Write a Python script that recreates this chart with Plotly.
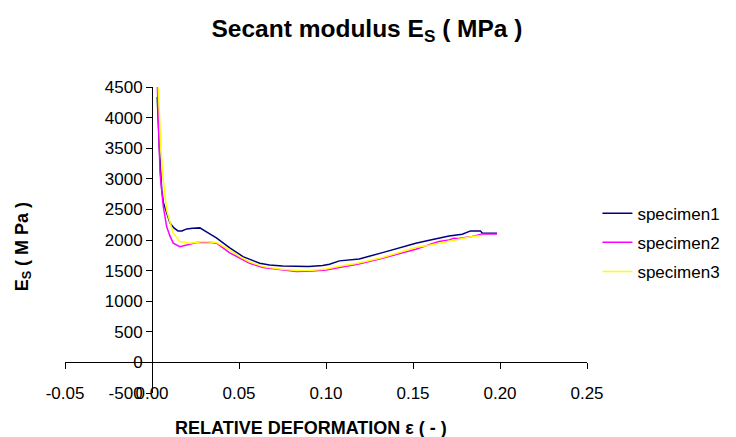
import plotly.graph_objects as go

# specimen curves (strain, secant modulus in MPa)
strain_1 = [0.0030, 0.0034, 0.0042, 0.0049, 0.0056, 0.0066, 0.0084, 0.0103, 0.0126, 0.0149,
            0.0172, 0.0199, 0.0235, 0.0275, 0.0313, 0.0370, 0.0447, 0.0523, 0.0619, 0.0676,
            0.0750, 0.0829, 0.0900, 0.0981, 0.1020, 0.1077, 0.1191, 0.1325, 0.1420, 0.1516,
            0.1600, 0.1707, 0.1783, 0.1831, 0.1888, 0.1898, 0.1983]
modulus_1 = [4338, 3962, 3521, 3146, 2819, 2606, 2443, 2279, 2198, 2149,
             2149, 2181, 2190, 2198, 2132, 2034, 1871, 1729, 1621, 1593,
             1575, 1565, 1565, 1582, 1605, 1659, 1691, 1794, 1870, 1948,
             2000, 2067, 2095, 2149, 2149, 2111, 2111]

strain_2 = [0.0031, 0.0037, 0.0042, 0.0046, 0.0065, 0.0084, 0.0103, 0.0122, 0.0160, 0.0199,
            0.0256, 0.0332, 0.0371, 0.0447, 0.0504, 0.0561, 0.0638, 0.0733, 0.0829, 0.0924,
            0.1001, 0.1077, 0.1182, 0.1325, 0.1420, 0.1516, 0.1600, 0.1650, 0.1707, 0.1735,
            0.1760, 0.1840, 0.1898, 0.1983]
modulus_2 = [4500, 3962, 3521, 3097, 2546, 2219, 2067, 1948, 1892, 1920,
             1958, 1964, 1948, 1790, 1703, 1621, 1549, 1511, 1484, 1495,
             1511, 1549, 1605, 1703, 1775, 1850, 1930, 1974, 2002, 2029,
             2025, 2056, 2100, 2100]

strain_3 = [0.0036, 0.0043, 0.0050, 0.0065, 0.0084, 0.0103, 0.0122, 0.0160, 0.0218, 0.0294,
            0.0371, 0.0447, 0.0504, 0.0561, 0.0638, 0.0733, 0.0829, 0.0924, 0.1001, 0.1077,
            0.1134, 0.1182, 0.1325, 0.1420, 0.1516, 0.1600, 0.1650, 0.1745, 0.1840, 0.1898]
modulus_3 = [4500, 3962, 3526, 2982, 2492, 2296, 2111, 1974, 1948, 1974,
             1958, 1838, 1729, 1640, 1565, 1525, 1500, 1505, 1528, 1570,
             1596, 1621, 1714, 1790, 1877, 1920, 1948, 2002, 2056, 2072]

names = ["specimen1", "specimen2", "specimen3"]
colors = ["#000080", "#FF00FF", "#FFFF00"]

x_ticks = [-0.05, 0.00, 0.05, 0.10, 0.15, 0.20, 0.25]
x_labels = ["-0.05", "0.00", "0.05", "0.10", "0.15", "0.20", "0.25"]
y_ticks = [-500, 0, 500, 1000, 1500, 2000, 2500, 3000, 3500, 4000, 4500]
y_labels = [str(v) for v in y_ticks]

FONT = "Arial, Liberation Sans, sans-serif"

# the page body keeps its 8px default margin, so the figure is 8px smaller
W, H = 728, 429

fig = go.Figure()
for xs, ys, name, col in zip([strain_1, strain_2, strain_3],
                             [modulus_1, modulus_2, modulus_3], names, colors):
    fig.add_trace(go.Scatter(x=xs, y=ys, mode="lines", name=name, legendgroup=name,
                             line=dict(color=col, width=1.5)))

# invisible trace so the tick-only axis at y = 0 is drawn
fig.add_trace(go.Scatter(x=[x_ticks[0]], y=[0], xaxis="x2", mode="lines",
                         showlegend=False, hoverinfo="skip", line=dict(width=0)))

fig.update_layout(
    width=W, height=H,
    margin=dict(l=57, r=148, t=79, b=44),
    paper_bgcolor="white", plot_bgcolor="white",
    font=dict(family=FONT, size=17, color="black"),
    title=dict(text="<b>Secant modulus E<sub>S</sub> ( MPa )</b>",
               x=359 / W, xref="container", xanchor="center",
               y=1 - 20 / H, yref="container", yanchor="middle",
               font=dict(size=24.5)),
    xaxis=dict(range=[-0.05, 0.25], tickvals=x_ticks, ticktext=x_labels,
               showgrid=False, zeroline=False, showline=False, ticks="",
               anchor="free", position=0.04),
    xaxis2=dict(range=[-0.05, 0.25], tickvals=x_ticks, overlaying="x",
                showgrid=False, zeroline=False, showline=True, linecolor="black",
                linewidth=1, ticks="outside", ticklen=6, tickcolor="black",
                showticklabels=False, anchor="free", position=0.1),
    yaxis=dict(range=[-500, 4500], tickvals=y_ticks, ticktext=y_labels,
               showgrid=False, zeroline=False,
               showline=True, linecolor="black", linewidth=1, ticks="outside",
               ticklen=6, tickcolor="black", anchor="free", position=1 / 6),
    legend=dict(x=1.018, y=0.645, xanchor="left", yanchor="top",
                font=dict(size=17), tracegroupgap=4, bgcolor="rgba(0,0,0,0)"),
    annotations=[
        dict(text="<b>E<sub>S</sub> ( M Pa )</b>", textangle=-90, xref="paper", yref="paper",
             x=0, y=0.476, xshift=-42, showarrow=False, font=dict(size=18),
             xanchor="center", yanchor="middle"),
        dict(text="<b>RELATIVE DEFORMATION \u03b5 ( - )</b>", xref="paper", yref="paper",
             x=0.472, y=0, yshift=-35, showarrow=False, font=dict(size=18),
             xanchor="center", yanchor="middle"),
    ],
)

fig.write_html("out.html")
